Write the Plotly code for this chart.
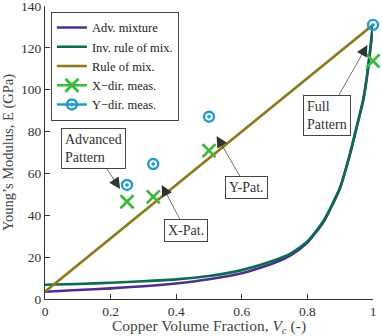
import plotly.graph_objects as go

# Theoretical curves
vc_curve = [0.0, 0.1, 0.2, 0.3, 0.4, 0.5, 0.6, 0.7, 0.75, 0.8, 0.85, 0.9, 0.93, 0.95, 0.97, 0.98, 0.99, 1.0]
e_inv = [6.8, 7.2, 7.8, 8.5, 9.4, 11.0, 13.8, 18.5, 21.8, 27.5, 37.5, 53.5, 69.5, 82.0, 95.0, 104.5, 117.0, 131.0]
e_adv = [3.5, 4.3, 5.1, 6.1, 7.4, 9.4, 12.3, 17.3, 21.0, 27.0, 37.0, 53.2, 69.3, 82.0, 95.0, 104.5, 117.0, 131.0]
vc_rule = [0.0, 1.0]
e_rule = [3.5, 131.0]

# Measurements
vc_meas = [0.25, 0.33, 0.5, 1.0]
e_xdir = [46.5, 48.8, 70.9, 113.7]
e_ydir = [54.5, 64.5, 87.1, 131.0]

x_ticks = [0, 0.2, 0.4, 0.6, 0.8, 1]
x_ticklabels = ["0", "0.2", "0.4", "0.6", "0.8", "1"]
y_ticks = [0, 20, 40, 60, 80, 100, 120, 140]

C_ADV = "#4f2d8f"
C_INV = "#0b6b50"
C_RULE = "#8a7a1c"
C_X = "#3cb83a"
C_Y = "#1f9bd0"
FONT = "Liberation Serif"

fig = go.Figure()
fig.add_trace(go.Scatter(x=vc_curve, y=e_adv, mode="lines", name="Adv. mixture",
                         line=dict(color=C_ADV, width=2.6, shape="spline", smoothing=0.6)))
fig.add_trace(go.Scatter(x=vc_curve, y=e_inv, mode="lines", name="Inv. rule of mix.",
                         line=dict(color=C_INV, width=2.6, shape="spline", smoothing=0.6)))
fig.add_trace(go.Scatter(x=vc_rule, y=e_rule, mode="lines", name="Rule of mix.",
                         line=dict(color=C_RULE, width=2.6)))
fig.add_trace(go.Scatter(x=vc_meas, y=e_xdir, mode="markers", showlegend=False, cliponaxis=False,
                         marker=dict(symbol="x-thin-open", size=13, color=C_X,
                                     line=dict(color=C_X, width=2.8))))
fig.add_trace(go.Scatter(x=vc_meas, y=e_ydir, mode="markers", showlegend=False, cliponaxis=False,
                         marker=dict(symbol="circle-open-dot", size=10, color=C_Y,
                                     line=dict(color=C_Y, width=2.4))))
# legend entries for the measurements (line + marker sample)
fig.add_trace(go.Scatter(x=[None], y=[None], mode="lines+markers", name="X\u2212dir. meas.",
                         line=dict(color=C_X, width=2.6),
                         marker=dict(symbol="x-thin-open", size=13, color=C_X,
                                     line=dict(color=C_X, width=2.8))))
fig.add_trace(go.Scatter(x=[None], y=[None], mode="lines+markers", name="Y\u2212dir. meas.",
                         line=dict(color=C_Y, width=2.6),
                         marker=dict(symbol="circle-open-dot", size=10, color=C_Y,
                                     line=dict(color=C_Y, width=2.4))))

ann_common = dict(xref="x", yref="y", axref="x", ayref="y", showarrow=True,
                  arrowhead=2, arrowsize=3.2, arrowwidth=0.7, arrowcolor="#333",
                  bordercolor="#444", borderwidth=1, borderpad=3, bgcolor="white",
                  font=dict(family=FONT, size=14, color="#333"), align="left")
annotations = [
    dict(text="Advanced<br>Pattern", x=0.229, y=52.6, ax=0.148, ay=71.9),
    dict(text="X-Pat.", x=0.356, y=54.5, ax=0.430, ay=32.5),
    dict(text="Y-Pat.", x=0.523, y=77.9, ax=0.615, ay=53.1),
    dict(text="Full<br>Pattern", x=0.983, y=121.4, ax=0.861, ay=87.8),
]
for a in annotations:
    fig.add_annotation(**ann_common, **a)

axis_common = dict(showgrid=False, zeroline=False, showline=True, linecolor="#333", linewidth=1,
                   ticks="inside", ticklen=5, tickcolor="#333", ticklabeloverflow="allow",
                   automargin=False,
                   tickfont=dict(family=FONT, size=13.5, color="#333"))
fig.update_xaxes(range=[0, 1], tickvals=x_ticks, ticktext=x_ticklabels,
                 title=dict(text="Copper Volume Fraction, <i>V<sub>c</sub></i> (-)",
                            font=dict(family=FONT, size=15.5, color="#444"), standoff=1),
                 **axis_common)
fig.update_yaxes(range=[0, 140], tickvals=y_ticks,
                 title=dict(text="Young\u2019s Modulus, E (GPa)",
                            font=dict(family=FONT, size=14.5, color="#444"), standoff=6),
                 **axis_common)

fig.update_layout(
    width=382, height=336,
    margin=dict(l=45, r=9, t=6, b=37, autoexpand=False),
    paper_bgcolor="white", plot_bgcolor="white",
    font=dict(family=FONT, size=12.5, color="#222"),
    legend=dict(x=0.018, y=0.98, xanchor="left", yanchor="top",
                bgcolor="white", bordercolor="#444", borderwidth=1,
                font=dict(family=FONT, size=12.5, color="#222"),
                tracegroupgap=0, itemwidth=30),
)

fig.write_html("out.html")
